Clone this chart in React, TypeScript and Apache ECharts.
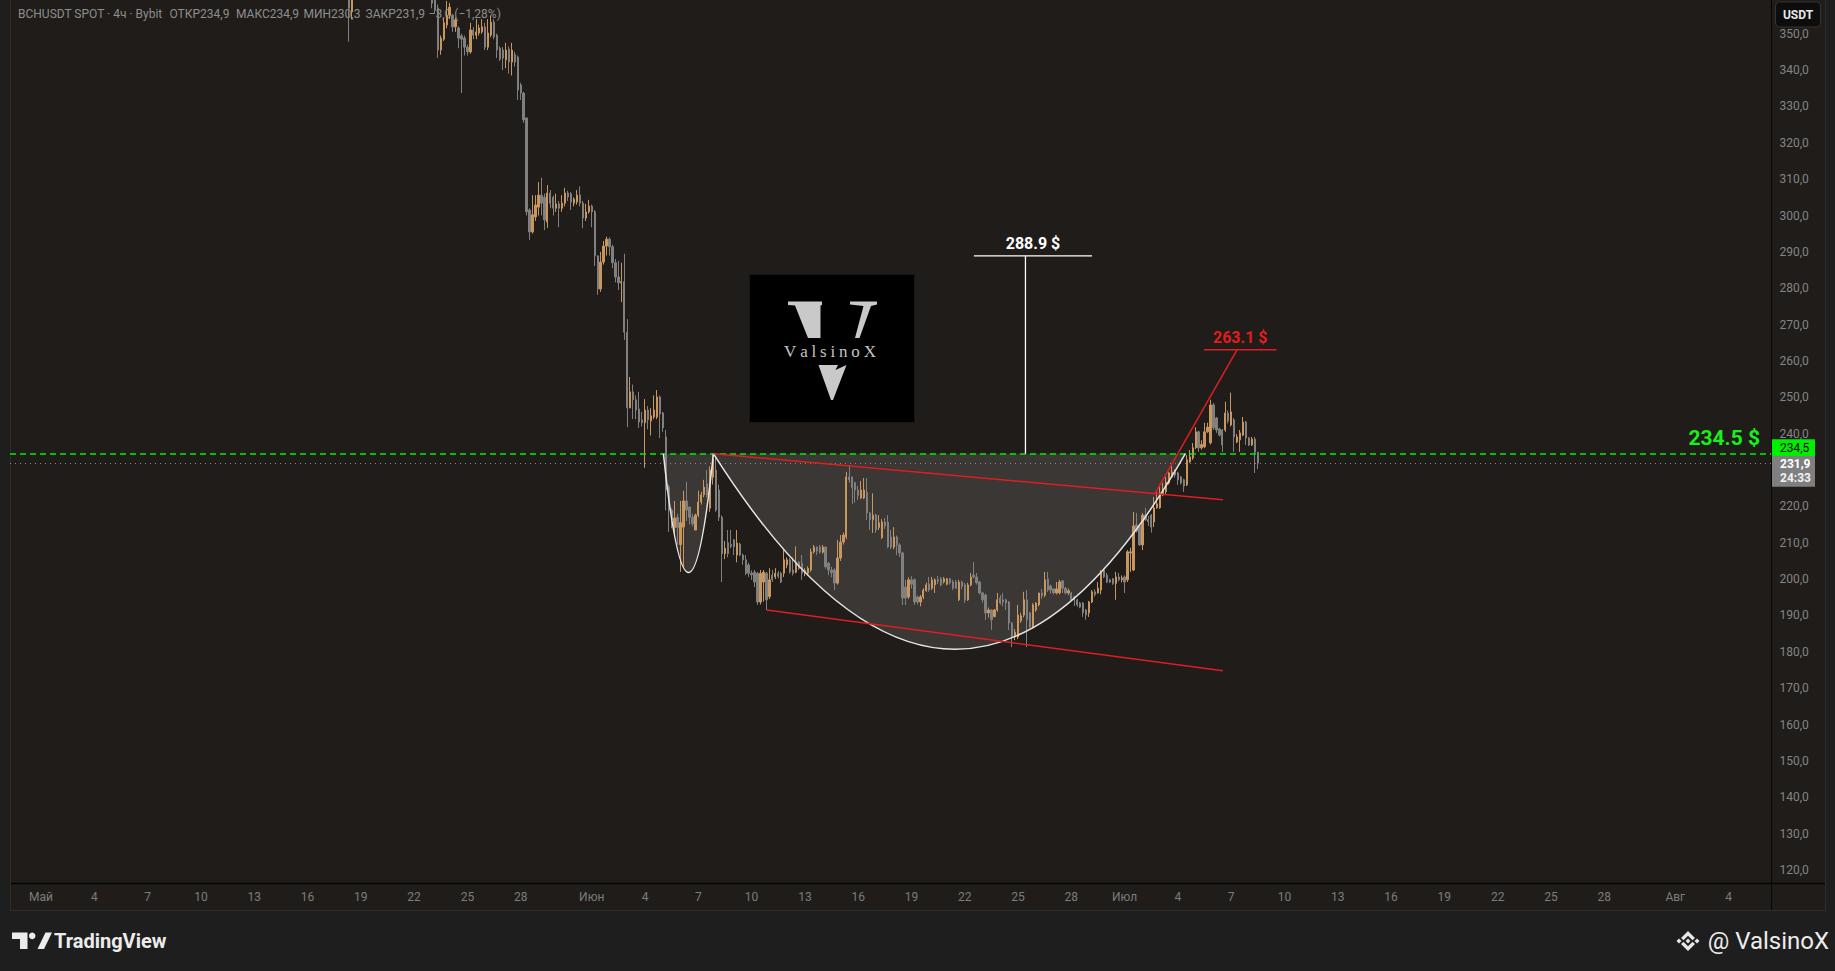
import React, { useEffect, useRef } from 'react';
import * as echarts from 'echarts';

// ---- time axis (4h slots) ----
const FIRST_SLOT_UTC = Date.UTC(2024, 3, 29, 8);
const SLOT_HOURS = 4;
const SLOT_COUNT = 595;
const MONTH_NAMES = ['Янв', 'Фев', 'Мар', 'Апр', 'Май', 'Июн', 'Июл', 'Авг', 'Сен', 'Окт', 'Ноя', 'Дек'];
const TICK_DAYS = [1, 4, 7, 10, 13, 16, 19, 22, 25, 28];

// ---- price axis (230,0 sits under the price tags, so it is not shown) ----
const PRICE_MIN = 116.42;
const PRICE_MAX = 359.27;
const PRICE_TICKS = [120, 130, 140, 150, 160, 170, 180, 190, 200, 210, 220, 240, 250, 260, 270, 280, 290, 300, 310, 320, 330, 340, 350];

// ---- candles [open, close, low, high] ----
const EARLY_START = 114;
const earlyCandles = [
  [362.0, 357.0, 347.8, 366.0], [356.0, 362.0, 354.0, 364.0],
];
const MAIN_START = 142;
const mainCandles = [
  [361.0, 358.4, 357.0, 364.0], [360.0, 356.5, 355.5, 362.0], [357.1, 345.5, 343.3, 358.0], [345.5, 348.8, 344.2, 349.5],
  [348.5, 353.0, 348.0, 354.3], [352.4, 355.1, 351.5, 359.0], [355.1, 357.3, 354.0, 358.5], [355.1, 351.9, 350.5, 355.5],
  [351.9, 353.8, 350.5, 354.5], [351.6, 348.8, 346.0, 352.0], [349.4, 348.5, 333.7, 350.0], [348.8, 346.3, 344.0, 349.5],
  [346.3, 345.0, 344.0, 347.0], [345.0, 351.0, 344.5, 353.0], [351.0, 349.6, 348.5, 351.8], [349.6, 350.5, 348.5, 354.0],
  [350.2, 351.6, 349.5, 352.5], [350.5, 351.9, 350.0, 354.0], [351.9, 346.3, 345.5, 353.0], [346.3, 350.2, 345.5, 354.0],
  [349.6, 353.2, 349.0, 355.0], [353.2, 349.1, 348.5, 354.0], [349.6, 345.5, 343.3, 350.0], [346.0, 343.0, 342.5, 346.5],
  [345.5, 343.3, 340.0, 346.3], [342.8, 345.5, 340.5, 347.5], [345.8, 342.2, 339.0, 346.5], [342.2, 345.5, 338.5, 347.5],
  [344.2, 342.2, 341.0, 345.0], [343.6, 334.5, 331.8, 344.0], [335.9, 333.7, 331.8, 336.5], [333.7, 326.3, 325.5, 334.0],
  [326.8, 301.0, 300.0, 327.0], [301.5, 295.5, 293.3, 302.0], [295.5, 300.2, 295.0, 305.6], [299.6, 302.9, 298.5, 305.6],
  [302.3, 305.6, 300.0, 309.2], [305.6, 303.4, 300.0, 310.4], [305.0, 298.8, 296.0, 306.0], [298.2, 306.2, 296.6, 308.4],
  [306.2, 303.4, 302.0, 307.0], [305.0, 302.0, 300.0, 305.5], [302.0, 303.2, 301.0, 306.0], [303.2, 302.0, 296.8, 304.0],
  [302.0, 303.4, 301.0, 305.6], [303.4, 306.2, 302.5, 307.6], [306.2, 305.1, 304.0, 306.8], [306.0, 303.7, 301.5, 306.5],
  [303.4, 304.5, 302.5, 305.0], [303.7, 305.6, 303.0, 307.0], [305.6, 303.4, 302.5, 308.0], [303.4, 299.3, 296.5, 304.0],
  [299.3, 301.0, 298.5, 303.2], [301.0, 302.6, 300.5, 304.3], [302.6, 301.0, 296.8, 303.0], [301.0, 288.9, 286.1, 301.5],
  [288.9, 279.8, 278.2, 289.0], [279.8, 287.2, 279.0, 290.0], [287.2, 291.6, 286.5, 293.0], [291.6, 293.5, 289.0, 294.2],
  [293.5, 291.4, 289.0, 294.0], [291.4, 287.0, 285.5, 292.0], [287.0, 283.1, 281.6, 288.0], [283.1, 281.5, 279.5, 287.5],
  [281.5, 281.8, 276.2, 287.0], [281.8, 267.9, 265.8, 289.5], [267.9, 247.1, 241.8, 271.5], [247.1, 251.5, 247.0, 255.6],
  [251.5, 249.3, 244.0, 253.5], [249.3, 246.5, 244.0, 250.5], [246.8, 243.2, 241.6, 251.5], [243.8, 243.0, 242.0, 246.0],
  [243.0, 246.5, 230.6, 249.5], [246.5, 243.8, 241.2, 247.6], [243.5, 244.9, 239.5, 247.0], [244.6, 246.5, 244.0, 250.5],
  [244.6, 250.1, 244.0, 252.0], [250.1, 245.4, 238.8, 250.5], [245.7, 241.6, 240.5, 246.0], [239.1, 224.5, 218.9, 241.0],
  [225.3, 219.0, 213.0, 226.0], [219.0, 216.3, 214.0, 219.5], [214.2, 216.8, 212.3, 221.5], [217.0, 214.2, 209.5, 218.0],
  [209.5, 215.5, 202.0, 221.5], [214.3, 221.5, 203.0, 224.3], [221.5, 219.0, 216.0, 226.8], [219.8, 217.0, 215.0, 220.0],
  [217.0, 215.2, 214.5, 218.0], [213.5, 217.6, 213.5, 218.0], [217.6, 221.2, 217.0, 224.3], [221.2, 223.2, 220.5, 224.0],
  [223.2, 225.3, 222.5, 227.3], [226.2, 223.2, 222.5, 230.0], [219.5, 230.0, 218.5, 231.0], [228.0, 233.0, 226.0, 234.3],
  [230.0, 219.0, 218.5, 233.5], [224.5, 217.0, 216.0, 226.0], [217.0, 207.0, 199.2, 217.5], [207.0, 208.5, 205.5, 210.5],
  [210.0, 207.0, 206.0, 213.5], [209.5, 209.0, 208.5, 213.5], [210.8, 208.9, 206.6, 211.0], [206.6, 209.9, 204.6, 213.5],
  [209.6, 206.6, 206.3, 210.0], [206.6, 205.3, 203.9, 207.0], [205.3, 201.6, 201.1, 206.6], [203.9, 201.6, 200.6, 204.5],
  [201.6, 201.2, 199.8, 202.4], [201.9, 199.2, 197.8, 202.5], [201.6, 193.7, 192.9, 202.0], [193.7, 201.6, 193.0, 202.5],
  [199.2, 201.9, 193.8, 202.5], [201.6, 194.3, 191.5, 202.0], [195.2, 199.8, 194.5, 203.0], [201.1, 199.8, 199.2, 202.5],
  [200.6, 201.6, 200.0, 203.0], [201.6, 200.8, 200.2, 202.2], [201.6, 199.2, 198.9, 202.0], [201.6, 205.3, 200.6, 208.0],
  [203.9, 205.3, 203.0, 206.0], [205.3, 202.0, 201.5, 205.8], [202.5, 201.6, 201.0, 206.0], [201.9, 204.6, 201.6, 209.0],
  [204.6, 202.9, 202.5, 205.0], [204.4, 201.6, 199.8, 206.6], [201.6, 202.3, 200.8, 203.0], [201.6, 203.0, 201.0, 203.5],
  [202.5, 207.5, 202.0, 208.4], [207.5, 208.8, 207.0, 209.4], [208.8, 207.7, 206.6, 209.0], [208.8, 207.4, 207.0, 209.4],
  [207.4, 208.8, 207.0, 209.4], [208.8, 203.4, 202.9, 209.0], [204.4, 202.5, 201.1, 204.6], [202.5, 201.8, 200.5, 203.4],
  [202.5, 198.9, 197.0, 203.0], [198.9, 205.8, 198.5, 210.8], [205.8, 210.2, 205.0, 212.1], [210.2, 212.1, 209.5, 212.8],
  [211.6, 228.1, 211.0, 229.5], [228.1, 227.3, 226.5, 231.4], [228.1, 225.1, 220.7, 228.1], [226.5, 224.5, 221.0, 226.8],
  [224.5, 223.0, 221.8, 225.6], [222.3, 224.5, 222.0, 227.0], [222.3, 224.5, 222.0, 227.8], [223.9, 218.2, 216.3, 227.8],
  [218.2, 216.3, 213.5, 218.5], [216.3, 217.6, 212.7, 223.6], [217.6, 213.5, 212.7, 218.0], [214.2, 215.5, 213.5, 217.6],
  [211.4, 215.7, 211.0, 216.5], [215.7, 214.6, 213.8, 216.8], [215.7, 208.8, 208.5, 217.6], [211.6, 208.8, 208.2, 213.5],
  [208.8, 211.6, 208.2, 214.3], [211.6, 209.4, 206.6, 212.0], [209.4, 207.2, 206.1, 209.9], [207.2, 194.8, 192.9, 207.5],
  [197.8, 194.8, 192.9, 199.8], [195.1, 199.8, 194.5, 200.5], [199.8, 198.6, 197.4, 200.8], [199.8, 193.7, 192.9, 200.2],
  [195.1, 193.7, 193.0, 195.5], [193.7, 195.1, 192.5, 195.6], [195.1, 197.0, 194.5, 197.5], [196.8, 198.4, 196.5, 199.0],
  [198.7, 197.0, 196.5, 200.6], [197.5, 199.8, 197.0, 200.6], [198.4, 199.8, 196.2, 200.2], [199.8, 199.4, 198.6, 200.9],
  [200.1, 198.4, 198.0, 200.6], [199.2, 200.1, 198.8, 200.6], [198.6, 200.1, 198.3, 200.3], [200.1, 199.0, 198.5, 200.3],
  [199.2, 197.5, 197.0, 199.8], [199.2, 197.5, 197.3, 199.8], [194.3, 199.2, 194.0, 199.8], [199.2, 198.0, 197.2, 199.6],
  [198.4, 194.3, 193.5, 199.0], [194.3, 198.4, 194.0, 199.0], [198.4, 200.6, 198.0, 201.7], [201.1, 200.6, 200.2, 204.7],
  [200.6, 199.0, 198.5, 201.7], [199.2, 196.2, 195.8, 199.5], [196.2, 194.3, 193.5, 196.5], [195.6, 190.7, 188.8, 196.0],
  [190.7, 191.5, 189.4, 192.2], [191.5, 188.8, 186.0, 191.8], [189.7, 191.5, 189.5, 191.8], [191.5, 194.3, 191.0, 196.2],
  [194.8, 193.4, 193.0, 195.6], [194.3, 193.7, 192.5, 196.2], [194.3, 193.4, 191.5, 194.6], [193.7, 187.9, 186.0, 194.0],
  [187.9, 184.1, 181.3, 188.2], [184.1, 185.4, 183.2, 186.3], [184.1, 190.1, 183.5, 192.9], [188.5, 189.9, 188.0, 190.7],
  [190.1, 194.3, 189.5, 196.5], [194.3, 188.8, 181.3, 197.0], [190.7, 186.8, 186.5, 191.0], [186.8, 192.9, 186.5, 193.4],
  [191.5, 193.4, 191.0, 193.7], [192.9, 196.2, 192.5, 196.2], [196.2, 195.4, 194.6, 197.3], [195.6, 199.8, 195.0, 202.0],
  [200.1, 197.0, 196.5, 202.0], [198.1, 197.0, 196.0, 198.5], [197.3, 196.2, 195.8, 197.5], [196.2, 197.3, 195.8, 199.2],
  [196.2, 199.2, 195.8, 199.8], [199.5, 197.5, 196.2, 199.8], [197.5, 196.2, 195.8, 197.8], [196.2, 196.8, 195.6, 197.4],
  [196.2, 194.3, 194.0, 196.5], [195.1, 194.3, 192.6, 195.4], [194.3, 192.9, 192.4, 194.6], [193.4, 192.3, 192.0, 193.7],
  [193.4, 190.7, 189.6, 193.7], [191.5, 190.1, 188.8, 191.8], [190.7, 193.7, 189.6, 194.0], [193.7, 196.5, 193.4, 197.0],
  [196.5, 195.8, 195.2, 197.2], [196.2, 197.5, 196.0, 199.2], [197.0, 201.8, 195.8, 202.5], [202.5, 200.6, 200.3, 202.8],
  [201.1, 199.2, 198.9, 201.7], [199.8, 199.2, 198.9, 200.1], [200.1, 198.8, 198.4, 200.3], [198.8, 200.6, 194.3, 202.0],
  [200.6, 199.8, 199.4, 201.7], [199.8, 200.3, 199.1, 201.0], [200.6, 199.2, 196.2, 201.0], [199.8, 207.5, 199.2, 208.0],
  [207.2, 207.5, 202.0, 208.6], [202.5, 214.6, 202.2, 218.5], [214.9, 213.2, 212.8, 218.2], [214.6, 209.4, 209.2, 215.0],
  [209.4, 217.6, 208.0, 218.2], [217.6, 216.3, 216.0, 219.6], [216.3, 215.8, 214.6, 217.4], [217.6, 214.3, 212.8, 217.9],
  [215.7, 219.6, 214.3, 222.6], [219.6, 220.7, 219.3, 224.5], [219.6, 223.6, 219.3, 225.9], [223.1, 224.5, 222.8, 226.5],
  [224.0, 226.7, 223.1, 228.1], [226.4, 229.2, 226.0, 229.5], [228.1, 229.5, 227.8, 231.4], [229.5, 228.6, 227.9, 230.2],
  [229.2, 227.3, 225.9, 229.5], [228.1, 226.4, 226.0, 228.4], [227.3, 225.6, 224.0, 227.6], [225.9, 232.8, 225.6, 234.1],
  [232.2, 233.6, 232.0, 235.5], [233.3, 236.1, 232.8, 237.4], [236.1, 240.5, 235.8, 241.8], [240.5, 236.1, 235.0, 240.8],
  [236.1, 237.0, 235.6, 238.2], [236.4, 240.5, 236.0, 243.0], [240.5, 241.8, 240.2, 243.0], [237.5, 247.9, 237.0, 249.3],
  [247.9, 241.6, 241.0, 248.5], [244.3, 241.0, 240.2, 244.6], [241.3, 239.6, 239.2, 241.6], [241.0, 236.9, 235.0, 241.3],
  [241.0, 245.7, 240.5, 248.8], [245.7, 243.5, 242.8, 246.4], [242.4, 246.0, 242.0, 251.3], [243.8, 239.1, 235.0, 244.3],
  [237.7, 239.1, 237.4, 239.9], [238.3, 240.2, 235.0, 241.0], [239.6, 243.2, 239.3, 244.6], [243.2, 238.8, 236.9, 243.5],
  [238.8, 236.9, 236.6, 239.1], [236.9, 238.5, 236.6, 239.1], [238.5, 234.9, 229.2, 239.1], [234.9, 231.9, 230.3, 234.9],
];

// ---- levels & drawings, in (slot index, price) ----
const LEVEL_BREAKOUT = 234.5;
const LAST_CLOSE = 231.9;
const COUNTDOWN = '24:33';
const TARGET_LOW = 263.1;
const TARGET_HIGH = 288.9;
const smallCup = [[220.2, 234.5], [228.7, 201.8], [237.1, 234.5]];
const bigCup = [[237.1, 234.5], [318.8, 180.7], [396.5, 234.5]];
const channelTop = [[237.1, 234.5], [409.2, 221.8]];
const channelBottom = [[255.1, 191.5], [409.2, 174.8]];
const breakoutLeg = [[386.3, 223.6], [414.0, 263.1]];
const targetLowSpan = [402.8, 427.3];
const targetHighSpan = [325.1, 365.0];
const targetHighStem = 342.5;

const headerParts = ['BCHUSDT SPOT · 4ч · Bybit', 'ОТКР234,9', 'МАКС234,9', 'МИН230,3', 'ЗАКР231,9', '−3,0 (−1,28%)'];
const headerX = [18, 169.5, 236, 303.5, 365.5, 428.6];
const logoLetters = ['V', 'a', 'l', 's', 'i', 'n', 'o', 'X'];
const logoLetterX = [41.1, 54.9, 64.8, 74.3, 83.8, 94.3, 106.6, 120.9];

const FONT = 'Roboto, "Noto Sans", sans-serif';
const UP = '#c8965f';
const DOWN = '#808080';
const PANE = '#1f1c19';
const OUTER = '#1e1e1e';
const RED = '#dd1f1f';
const GREEN = '#00ee00';
const fmtPrice = (v: number) => v.toFixed(1).replace('.', ',');

export default function App() {
  const ref = useRef<HTMLDivElement>(null);

  useEffect(() => {
    document.body.style.margin = '0';
    if (!ref.current) return;
    const chart = echarts.init(ref.current, null, { renderer: 'svg' });

    const categories = Array.from({ length: SLOT_COUNT }, (_, i) => {
      const d = new Date(FIRST_SLOT_UTC + i * SLOT_HOURS * 3600000);
      return `${d.getUTCMonth()}-${d.getUTCDate()}-${d.getUTCHours()}`;
    });
    const candleData = [
      ...earlyCandles.map((c, k) => [EARLY_START + k, ...c]),
      ...mainCandles.map((c, k) => [MAIN_START + k, ...c]),
    ];

    chart.setOption({
      animation: false,
      backgroundColor: PANE,
      grid: { left: 10, top: 0, width: 1761.5, height: 883 },
      xAxis: {
        type: 'category',
        data: categories,
        boundaryGap: true,
        axisLine: { show: false },
        axisTick: { show: false },
        splitLine: { show: false },
        axisLabel: {
          interval: (_i: number, v: string) => {
            const p = v.split('-').map(Number);
            return p[2] === 0 && TICK_DAYS.includes(p[1]);
          },
          formatter: (v: string) => {
            const p = v.split('-').map(Number);
            return p[1] === 1 ? MONTH_NAMES[p[0]] : String(p[1]);
          },
          color: '#7d7d7d',
          fontSize: 12,
          fontFamily: FONT,
          margin: 8,
        },
      },
      yAxis: {
        type: 'value',
        position: 'right',
        min: PRICE_MIN,
        max: PRICE_MAX,
        axisLine: { show: false },
        axisTick: { show: false },
        splitLine: { show: false },
        axisLabel: {
          customValues: PRICE_TICKS,
          formatter: (v: number) => fmtPrice(v),
          color: '#858585',
          fontSize: 12,
          fontFamily: FONT,
          margin: 8,
        },
      },
      series: [
        {
          type: 'candlestick',
          data: candleData,
          encode: { x: 0, y: [1, 2, 3, 4] },
          barWidth: 1.8,
          large: false,
          itemStyle: { color: UP, color0: DOWN, borderColor: UP, borderColor0: DOWN, borderWidth: 1 },
          markLine: {
            silent: true,
            symbol: ['none', 'none'],
            label: { show: false },
            data: [
              { yAxis: LEVEL_BREAKOUT, lineStyle: { color: GREEN, type: [6, 4], width: 1.6 } },
              { yAxis: LAST_CLOSE, lineStyle: { color: '#8a8a8a', type: [1, 4], width: 1 } },
            ],
          },
        },
      ],
    });

    const x0 = chart.convertToPixel({ xAxisIndex: 0 }, 0) as number;
    const x1 = chart.convertToPixel({ xAxisIndex: 0 }, 1) as number;
    const step = x1 - x0;
    const P = (i: number, p: number) => [x0 + step * i, chart.convertToPixel({ yAxisIndex: 0 }, p) as number];

    const curve = (pts: number[][], z: number, fill: string | null, stroke: string | null) => {
      const a = P(pts[0][0], pts[0][1]);
      const m = P(pts[1][0], pts[1][1]);
      const b = P(pts[2][0], pts[2][1]);
      return {
        type: 'bezierCurve', z, silent: true,
        shape: { x1: a[0], y1: a[1], x2: b[0], y2: b[1], cpx1: 2 * m[0] - (a[0] + b[0]) / 2, cpy1: 2 * m[1] - (a[1] + b[1]) / 2 },
        style: { fill: fill || 'none', stroke: stroke || 'none', lineWidth: 1.5 },
      };
    };
    const seg = (pts: number[][], color: string, w: number, z = 40) => {
      const a = P(pts[0][0], pts[0][1]);
      const b = P(pts[1][0], pts[1][1]);
      return { type: 'line', z, silent: true, shape: { x1: a[0], y1: a[1], x2: b[0], y2: b[1] }, style: { stroke: color, lineWidth: w } };
    };
    const txt = (x: number, y: number, text: string, o: any = {}, z = 40) => ({
      type: 'text', z, silent: true, x, y,
      style: {
        text, fill: o.fill || '#8c8c8c', fontSize: o.size || 12, fontWeight: o.weight || 'normal',
        fontFamily: o.family || FONT, align: o.align || 'left', verticalAlign: 'middle',
        textAlign: o.align || 'left', textVerticalAlign: 'middle', lineHeight: o.lh || undefined,
      },
    });

    const yLevel = P(0, LEVEL_BREAKOUT)[1];
    const tLowL = P(targetLowSpan[0], TARGET_LOW);
    const tLowR = P(targetLowSpan[1], TARGET_LOW);
    const tHighL = P(targetHighSpan[0], TARGET_HIGH);
    const tHighR = P(targetHighSpan[1], TARGET_HIGH);

    const lx = 749, ly = 274;
    const logoPoly = (pts: number[][]) => ({ type: 'polygon', z: 42, silent: true, shape: { points: pts.map((q) => [lx + q[0], ly + q[1]]) }, style: { fill: '#c9c9c9' } });

    const graphic: any[] = [
      // outer frame
      { type: 'rect', z: 0, silent: true, shape: { x: 0, y: 0, width: 10, height: 971 }, style: { fill: OUTER } },
      { type: 'rect', z: 0, silent: true, shape: { x: 0, y: 911, width: 1835, height: 60 }, style: { fill: OUTER } },
      { type: 'rect', z: 0, silent: true, shape: { x: 1826, y: 0, width: 9, height: 971 }, style: { fill: OUTER } },
      { type: 'line', z: 1, silent: true, shape: { x1: 10.5, y1: 0, x2: 10.5, y2: 911 }, style: { stroke: '#2d2d2d', lineWidth: 1 } },
      { type: 'line', z: 1, silent: true, shape: { x1: 10, y1: 910.5, x2: 1826, y2: 910.5 }, style: { stroke: '#2d2d2d', lineWidth: 1 } },
      { type: 'line', z: 1, silent: true, shape: { x1: 1825.5, y1: 0, x2: 1825.5, y2: 911 }, style: { stroke: '#2d2d2d', lineWidth: 1 } },
      { type: 'line', z: 30, silent: true, shape: { x1: 1771.5, y1: 0, x2: 1771.5, y2: 910 }, style: { stroke: '#050505', lineWidth: 1 } },
      { type: 'line', z: 30, silent: true, shape: { x1: 11, y1: 883.5, x2: 1825, y2: 883.5 }, style: { stroke: '#050505', lineWidth: 1.5 } },
      // legend header (beneath candles)
      ...headerParts.map((t, k) => txt(headerX[k], 13.5, t, { fill: '#8e8e8e' }, 0)),
      // cup fills
      curve(smallCup, 1, 'rgba(255,255,255,0.12)', null),
      curve(bigCup, 1, 'rgba(255,255,255,0.12)', null),
      // cup outlines
      curve(smallCup, 40, null, '#e6e6e6'),
      curve(bigCup, 40, null, '#e6e6e6'),
      // channel & breakout
      seg(channelTop, RED, 1.5),
      seg(channelBottom, RED, 1.5),
      seg(breakoutLeg, RED, 1.5),
      { type: 'line', z: 40, silent: true, shape: { x1: tLowL[0], y1: tLowL[1], x2: tLowR[0], y2: tLowR[1] }, style: { stroke: RED, lineWidth: 1.5 } },
      txt((tLowL[0] + tLowR[0]) / 2, tLowL[1] - 12, `${TARGET_LOW.toFixed(1)} $`, { fill: '#e21d1d', size: 16, weight: 'bold', align: 'center' }),
      // measured move
      { type: 'line', z: 40, silent: true, shape: { x1: tHighL[0], y1: tHighL[1], x2: tHighR[0], y2: tHighR[1] }, style: { stroke: '#ffffff', lineWidth: 1.3 } },
      seg([[targetHighStem, LEVEL_BREAKOUT], [targetHighStem, TARGET_HIGH]], '#ffffff', 1.3),
      txt((tHighL[0] + tHighR[0]) / 2, tHighL[1] - 12.5, `${TARGET_HIGH.toFixed(1)} $`, { fill: '#ffffff', size: 16, weight: 'bold', align: 'center' }),
      // breakout level label
      txt(1760, yLevel - 15.5, `${LEVEL_BREAKOUT.toFixed(1)} $`, { fill: '#19f019', size: 21, weight: 'bold', align: 'right' }),
      // logo
      { type: 'rect', z: 41, silent: true, shape: { x: lx + 0.5, y: ly + 0.5, width: 165, height: 148 }, style: { fill: '#000000', stroke: '#161616', lineWidth: 1 } },
      logoPoly([[39, 27.5], [73, 27.5], [73, 31], [71.5, 31.5], [71.5, 64], [59, 64], [46, 31.5], [39, 31]]),
      logoPoly([[101, 27.5], [128, 27.5], [128, 30.5], [122, 32], [110.5, 64], [106, 64], [114.5, 32], [101, 30.5]]),
      logoPoly([[69.5, 91], [89, 91], [86.5, 96], [97.5, 91], [84, 126], [82, 126]]),
      ...logoLetters.map((c, k) => txt(lx + logoLetterX[k], ly + 77, c, { fill: '#c4c4c4', size: 17, family: '"Liberation Serif", "DejaVu Serif", serif', align: 'center' }, 43)),
      // price axis tags
      { type: 'rect', z: 60, silent: true, shape: { x: 1772, y: yLevel - 14.5, width: 43, height: 16.8 }, style: { fill: GREEN } },
      txt(1780, yLevel - 6, fmtPrice(LEVEL_BREAKOUT), { fill: '#000000', lh: 13 }, 61),
      { type: 'rect', z: 60, silent: true, shape: { x: 1772, y: yLevel + 2.3, width: 43, height: 30.7 }, style: { fill: '#7f7f7f' } },
      txt(1780, yLevel + 10, fmtPrice(LAST_CLOSE), { fill: '#ffffff', weight: 'bold', lh: 13 }, 61),
      txt(1780, yLevel + 24.5, COUNTDOWN, { fill: '#f2f2f2', weight: 'bold', lh: 13 }, 61),
      // currency button
      { type: 'rect', z: 60, silent: true, shape: { x: 1775.5, y: 2, width: 45, height: 25, r: 4 }, style: { fill: '#0d0d0d', stroke: '#333333', lineWidth: 1 } },
      txt(1798, 15, 'USDT', { fill: '#e8e8e8', weight: 'bold', align: 'center' }, 61),
      // footer: TradingView mark
      { type: 'polygon', z: 5, silent: true, shape: { points: [[12, 932.5], [27.5, 932.5], [27.5, 949], [20, 949], [20, 939], [12, 939]] }, style: { fill: '#ececec' } },
      { type: 'circle', z: 5, silent: true, shape: { cx: 32.2, cy: 935.8, r: 3.3 }, style: { fill: '#ececec' } },
      { type: 'polygon', z: 5, silent: true, shape: { points: [[37.5, 949], [45.5, 932.5], [52, 932.5], [44, 949]] }, style: { fill: '#ececec' } },
      txt(54, 941, 'TradingView', { fill: '#ececec', size: 20, weight: 'bold' }, 5),
      // footer: author handle
      { type: 'polygon', z: 5, silent: true, shape: { points: [[1681, 938], [1688, 931], [1695, 938], [1692.5, 940.3], [1688, 935.8], [1683.5, 940.3]] }, style: { fill: '#e6e6e6' } },
      { type: 'polygon', z: 5, silent: true, shape: { points: [[1681, 944], [1688, 951], [1695, 944], [1692.5, 941.7], [1688, 946.2], [1683.5, 941.7]] }, style: { fill: '#e6e6e6' } },
      { type: 'polygon', z: 5, silent: true, shape: { points: [[1688, 938.6], [1690.4, 941], [1688, 943.4], [1685.6, 941]] }, style: { fill: '#e6e6e6' } },
      { type: 'polygon', z: 5, silent: true, shape: { points: [[1676.5, 941], [1679, 938.5], [1681.5, 941], [1679, 943.5]] }, style: { fill: '#e6e6e6' } },
      { type: 'polygon', z: 5, silent: true, shape: { points: [[1694.5, 941], [1697, 938.5], [1699.5, 941], [1697, 943.5]] }, style: { fill: '#e6e6e6' } },
      txt(1829, 941, '@ ValsinoX', { fill: '#ececec', size: 24, align: 'right' }, 5),
    ];

    chart.setOption({ graphic });
    return () => chart.dispose();
  }, []);

  return <div ref={ref} style={{ width: 1835, height: 971, position: 'absolute', left: 0, top: 0 }} />;
}
